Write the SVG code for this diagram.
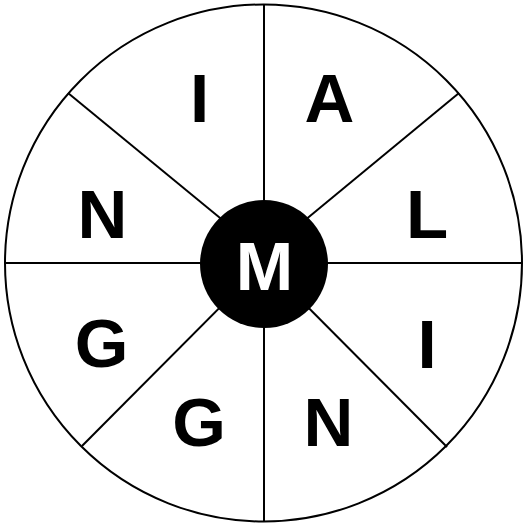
<svg xmlns="http://www.w3.org/2000/svg" width="523" height="524" viewBox="0 0 523 524">
<style>
.ln{stroke:#000;stroke-width:2;fill:none}
.lt{font-family:"Liberation Sans",Arial,sans-serif;font-weight:bold;font-size:69px;text-anchor:middle;fill:#000}
</style>
<rect width="523" height="524" fill="#fff"/>
<g id="wheel">
<circle class="ln" cx="263.5" cy="263" r="258.5"/>
</g>
<g id="connectors">
<line class="ln" x1="264" y1="4" x2="264" y2="522"/>
<line class="ln" x1="5" y1="263" x2="522" y2="263"/>
<line class="ln" x1="68" y1="93" x2="264" y2="254"/>
<line class="ln" x1="459" y1="93" x2="264" y2="254"/>
<line class="ln" x1="82" y1="446" x2="264" y2="263"/>
<line class="ln" x1="447" y1="447" x2="264" y2="263"/>
</g>
<g id="hub">
<circle cx="264" cy="264" r="64" fill="#000"/>
<text class="lt" x="264.5" y="290" fill="#fff" style="fill:#fff">M</text>
</g>
<g id="seg-I-top"><text class="lt" x="199.5" y="122">I</text></g>
<g id="seg-A"><text class="lt" x="329.5" y="122">A</text></g>
<g id="seg-N-left"><text class="lt" x="102.5" y="238">N</text></g>
<g id="seg-L"><text class="lt" x="427" y="238">L</text></g>
<g id="seg-G-left"><text class="lt" x="101.5" y="367">G</text></g>
<g id="seg-I-right"><text class="lt" x="427" y="368">I</text></g>
<g id="seg-G-bottom"><text class="lt" x="199" y="446">G</text></g>
<g id="seg-N-bottom"><text class="lt" x="328.5" y="446">N</text></g>
</svg>
